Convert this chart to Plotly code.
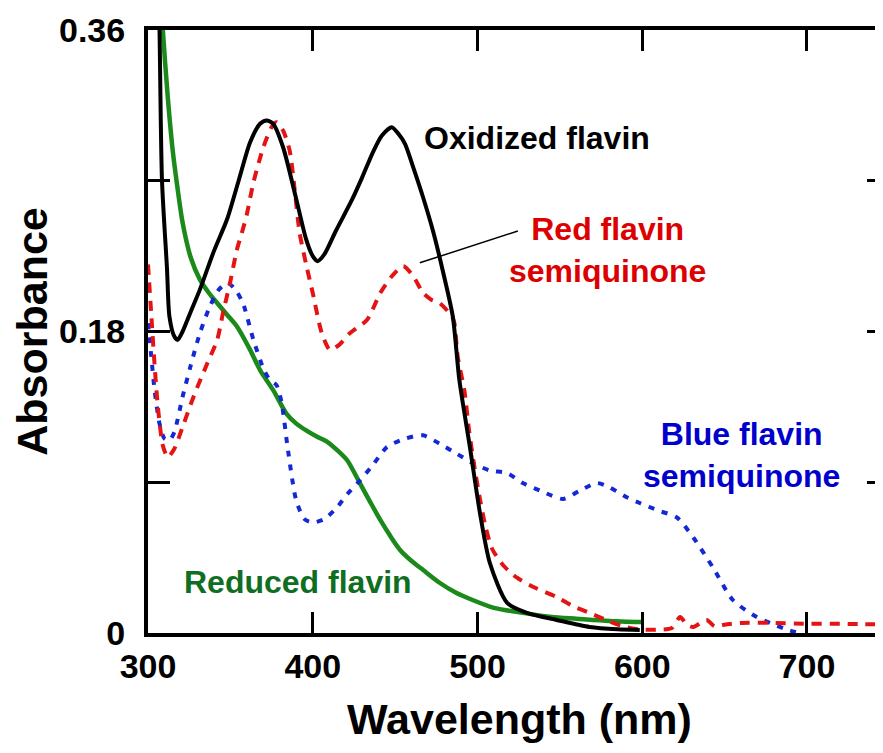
import plotly.graph_objects as go

# Oxidized flavin (black solid)
ox_wl = [303, 307, 308.5, 311.5, 313, 316, 318, 321, 326, 331.5, 340, 348, 355, 362, 368, 372, 376, 382, 390, 396, 400, 403, 407, 414, 424, 430, 436.5, 442, 448, 452, 456, 461, 467, 473, 479, 485, 489, 495.4, 501.5, 507.5, 518, 530, 548, 568, 585, 598.5]
ox_abs = [0.60, 0.36, 0.27, 0.218, 0.189, 0.177, 0.175, 0.18, 0.192, 0.205, 0.228, 0.247, 0.27, 0.293, 0.304, 0.306, 0.304, 0.29, 0.259, 0.235, 0.225, 0.222, 0.226, 0.24, 0.259, 0.272, 0.287, 0.297, 0.302, 0.298, 0.292, 0.278, 0.26, 0.24, 0.216, 0.189, 0.151, 0.111, 0.0716, 0.0418, 0.018, 0.012, 0.0078, 0.0036, 0.0022, 0.0018]

# Red flavin semiquinone (red dashed)
red_wl = [300, 302, 304, 306, 309, 312, 316, 321, 328, 336, 342, 345.5, 350, 354, 357, 360, 364, 370, 375, 378, 382, 386, 389, 392, 396, 400, 405.5, 410.5, 416, 422.5, 433, 441, 448, 455, 461, 467, 472, 477, 484.5, 486, 488, 492, 495, 498, 501.5, 505, 509, 516, 524, 535, 548, 558, 568, 580, 590, 600, 610, 618, 623, 627, 631, 639, 644, 649, 660, 680, 700, 720, 751]
red_abs = [0.22, 0.19, 0.16, 0.135, 0.112, 0.105, 0.11, 0.123, 0.142, 0.161, 0.175, 0.191, 0.21, 0.229, 0.239, 0.25, 0.269, 0.29, 0.302, 0.305, 0.3, 0.288, 0.265, 0.239, 0.22, 0.203, 0.179, 0.169, 0.172, 0.179, 0.187, 0.203, 0.213, 0.219, 0.213, 0.203, 0.199, 0.197, 0.189, 0.185, 0.165, 0.145, 0.12, 0.1, 0.08, 0.063, 0.05, 0.04, 0.033, 0.027, 0.0215, 0.016, 0.012, 0.007, 0.0036, 0.002, 0.002, 0.003, 0.0095, 0.005, 0.0036, 0.0078, 0.004, 0.0048, 0.006, 0.006, 0.0055, 0.0055, 0.005]

# Blue flavin semiquinone (blue dotted)
blue_wl = [300, 302, 304, 307, 310, 313, 316, 321, 326, 331.5, 337.6, 343, 348.5, 353, 357.6, 364, 370, 374, 378, 381, 385, 390, 395, 400, 407, 414.7, 421, 428.6, 437, 445, 456, 467, 477, 487.5, 497, 507.5, 518, 527.5, 538, 552, 562, 572.5, 580, 590.6, 598.5, 610, 621, 631, 643, 655, 669.5, 680, 688, 695]
blue_abs = [0.185, 0.165, 0.145, 0.125, 0.116, 0.115, 0.12, 0.141, 0.16, 0.179, 0.195, 0.205, 0.209, 0.205, 0.197, 0.175, 0.158, 0.151, 0.148, 0.138, 0.109, 0.079, 0.068, 0.066, 0.068, 0.075, 0.083, 0.091, 0.101, 0.111, 0.116, 0.118, 0.113, 0.107, 0.1015, 0.097, 0.0955, 0.0895, 0.085, 0.08, 0.085, 0.0895, 0.087, 0.081, 0.0776, 0.073, 0.069, 0.057, 0.039, 0.0197, 0.0095, 0.005, 0.002, 0.0]

# Reduced flavin (green solid)
grn_wl = [303, 306, 309, 312, 315, 318, 321, 326, 331.5, 337, 342, 348, 354, 362, 368, 376, 384, 390, 396, 403, 409, 415, 421, 428.6, 435, 441, 447, 453, 460, 467, 477, 487, 497, 510, 527.5, 545, 560, 580, 600]
grn_abs = [0.50, 0.42, 0.36, 0.32, 0.288, 0.265, 0.245, 0.224, 0.211, 0.203, 0.197, 0.19, 0.183, 0.169, 0.157, 0.145, 0.131, 0.125, 0.121, 0.117, 0.114, 0.109, 0.103, 0.0895, 0.078, 0.0675, 0.058, 0.0496, 0.043, 0.0376, 0.03, 0.024, 0.0197, 0.015, 0.012, 0.0095, 0.0085, 0.0072, 0.0065]

x_ticks = [300, 400, 500, 600, 700]
y_ticks = [0, 0.09, 0.18, 0.27, 0.36]
y_tick_text = ["0", "", "0.18", "", "0.36"]

FONT = "Liberation Sans, Arial, sans-serif"

fig = go.Figure()
fig.add_trace(go.Scatter(x=grn_wl, y=grn_abs, mode="lines",
                         line=dict(color="#1b8a1b", width=4.5, shape="spline", smoothing=0.7), showlegend=False))
fig.add_trace(go.Scatter(x=blue_wl, y=blue_abs, mode="lines",
                         line=dict(color="#1428d6", width=4, dash="6px,8px", shape="spline", smoothing=0.7), showlegend=False))
fig.add_trace(go.Scatter(x=red_wl, y=red_abs, mode="lines",
                         line=dict(color="#e41414", width=4, dash="10px,8px", shape="spline", smoothing=0.7), showlegend=False))
fig.add_trace(go.Scatter(x=ox_wl, y=ox_abs, mode="lines",
                         line=dict(color="black", width=4, shape="spline", smoothing=0.7), showlegend=False))
fig.add_trace(go.Scatter(x=[], y=[], yaxis="y2", showlegend=False, hoverinfo="skip"))

ann_font = dict(family=FONT, size=32, weight="bold")
fig.add_annotation(x=466.3, y=0.2955, text="Oxidized flavin", showarrow=False, xanchor="left", yanchor="middle",
                   font=dict(ann_font, color="black"))
fig.add_annotation(x=579, y=0.2287, text="Red flavin<br>semiquinone", showarrow=False, xanchor="center", yanchor="middle",
                   font=dict(ann_font, color="#dd0000"))
fig.add_annotation(x=660, y=0.106, text="Blue flavin<br>semiquinone", showarrow=False, xanchor="center", yanchor="middle",
                   font=dict(ann_font, color="#0000cc"))
fig.add_annotation(x=391, y=0.0304, text="Reduced flavin", showarrow=False, xanchor="center", yanchor="middle",
                   font=dict(ann_font, color="#0f6e1f"))
fig.add_shape(type="line", x0=465, y0=0.221, x1=524.5, y1=0.24, line=dict(color="black", width=1.5))

tick_font = dict(family=FONT, size=34, color="black", weight="bold")
title_font = dict(family=FONT, size=43, color="black", weight="bold")

fig.update_layout(
    width=883, height=753,
    margin=dict(l=140, r=0, t=22, b=128),
    plot_bgcolor="white", paper_bgcolor="white",
    xaxis=dict(range=[300, 751], tickvals=x_ticks, ticks="inside", ticklen=21, tickwidth=3,
               tickcolor="black", showline=True, linewidth=4, linecolor="black", mirror="ticks",
               showgrid=False, zeroline=False, tickfont=tick_font,
               title=dict(text="Wavelength (nm)", font=title_font, standoff=21)),
    yaxis=dict(range=[0, 0.36], tickvals=y_ticks, ticktext=y_tick_text, ticks="inside", ticklen=22,
               tickwidth=3, tickcolor="black", showline=True, linewidth=4, linecolor="black",
               mirror=False, showgrid=False, zeroline=False, tickfont=tick_font, ticklabelstandoff=12,
               title=dict(text="Absorbance", font=title_font, standoff=14)),
    yaxis2=dict(range=[0, 0.36], overlaying="y", side="right", tickvals=[0.09, 0.18, 0.27],
                ticks="inside", ticklen=24, tickwidth=3, tickcolor="black", showline=False,
                showticklabels=False, showgrid=False, zeroline=False),
)

fig.write_html("out.html")
